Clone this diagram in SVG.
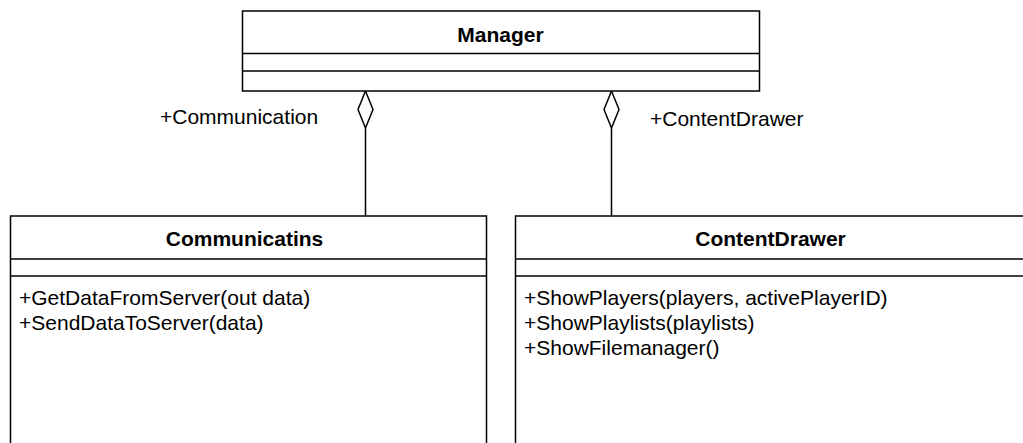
<svg xmlns="http://www.w3.org/2000/svg" width="1023" height="443" viewBox="0 0 1023 443">
  <style>
    .box { fill: #ffffff; stroke: #000000; stroke-width: 1.5; }
    .sep { stroke: #000000; stroke-width: 1.5; }
    .title { font-family: "Liberation Sans", Arial, sans-serif; font-size: 21px; font-weight: bold; fill: #000000; text-anchor: middle; }
    .member { font-family: "Liberation Sans", Arial, sans-serif; font-size: 21px; fill: #000000; }
    .role { font-family: "Liberation Sans", Arial, sans-serif; font-size: 21px; fill: #000000; }
    .link { fill: none; stroke: #000000; stroke-width: 1.5; }
    .diamond { fill: #ffffff; stroke: #000000; stroke-width: 1.5; }
  </style>
  <rect width="1023" height="443" fill="#ffffff"/>

  <!-- aggregation links: diamond sits on the Manager (whole) end -->
  <g id="connectors">
    <line class="link" x1="365.5" y1="128" x2="365.5" y2="216"/>
    <polygon class="diamond" points="365.5,91 373,109.5 365.5,128 358,109.5"/>
    <text class="role" x="160" y="124">+Communication</text>

    <line class="link" x1="611.5" y1="128" x2="611.5" y2="216"/>
    <polygon class="diamond" points="611.5,91 619,109.5 611.5,128 604,109.5"/>
    <text class="role" x="650" y="126">+ContentDrawer</text>
  </g>

  <g id="manager">
    <rect class="box" x="242.5" y="11" width="517" height="80"/>
    <line class="sep" x1="242.5" y1="53.5" x2="759.5" y2="53.5"/>
    <line class="sep" x1="242.5" y1="71" x2="759.5" y2="71"/>
    <text class="title" x="500.5" y="42">Manager</text>
  </g>

  <g id="communicatins">
    <rect class="box" x="10.5" y="216" width="476" height="260"/>
    <line class="sep" x1="10.5" y1="259" x2="486.5" y2="259"/>
    <line class="sep" x1="10.5" y1="276" x2="486.5" y2="276"/>
    <text class="title" x="244.5" y="246">Communicatins</text>
    <text class="member" x="19" y="305">+GetDataFromServer(out data)</text>
    <text class="member" x="19" y="330">+SendDataToServer(data)</text>
  </g>

  <g id="contentdrawer">
    <rect class="box" x="515.5" y="216" width="510" height="260"/>
    <line class="sep" x1="515.5" y1="259" x2="1025.5" y2="259"/>
    <line class="sep" x1="515.5" y1="276" x2="1025.5" y2="276"/>
    <text class="title" x="770.5" y="246">ContentDrawer</text>
    <text class="member" x="524" y="305">+ShowPlayers(players, activePlayerID)</text>
    <text class="member" x="524" y="330">+ShowPlaylists(playlists)</text>
    <text class="member" x="524" y="355">+ShowFilemanager()</text>
  </g>
</svg>
